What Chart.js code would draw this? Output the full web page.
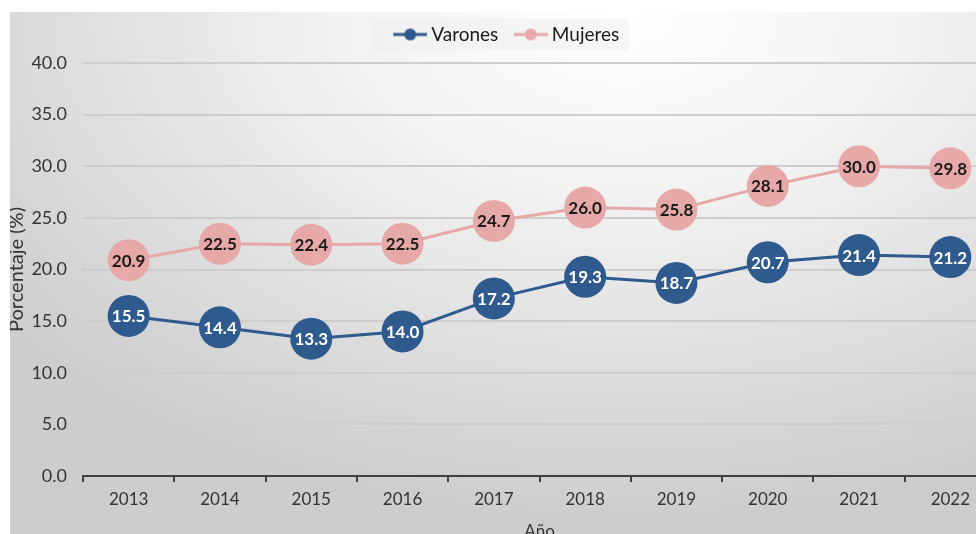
<!DOCTYPE html>
<html>
<head>
<meta charset="utf-8">
<script src="https://cdn.jsdelivr.net/npm/chart.js@4.4.0/dist/chart.umd.min.js"></script>
<style>
html, body { margin: 0; padding: 0; background: #fff; overflow: hidden; width: 976px; height: 534px; }
#wrap {
    position: absolute; left: 10px; top: 12px; width: 990px; height: 530px;
    background: radial-gradient(ellipse 80% 95% at 62% 0%, #ffffff 0%, #f3f3f3 35%, #dddddd 72%, #cdcdcd 100%);
}
#myChart { display: block; width: 990px; height: 530px; }
</style>
</head>
<body>
<div id="wrap"><canvas id="myChart" width="990" height="530"></canvas></div>
<script>
//Data
var years = ['2013', '2014', '2015', '2016', '2017', '2018', '2019', '2020', '2021', '2022'];
var varones = [15.5, 14.4, 13.3, 14.0, 17.2, 19.3, 18.7, 20.7, 21.4, 21.2];
var mujeres = [20.9, 22.5, 22.4, 22.5, 24.7, 26.0, 25.8, 28.1, 30.0, 29.8];
var yTicks = [0, 5, 10, 15, 20, 25, 30, 35, 40];

var blue = '#2f5a8e';
var pink = '#e6a9a7';
var font = 'Lato, "Open Sans", sans-serif';

// legend marker: short line with a dot, with blank room on the left
function legendMarker(color) {
    var c = document.createElement('canvas');
    c.width = 46; c.height = 14;
    var g = c.getContext('2d');
    g.strokeStyle = color; g.lineWidth = 3;
    g.beginPath(); g.moveTo(12, 7); g.lineTo(46, 7); g.stroke();
    g.fillStyle = color;
    g.beginPath(); g.arc(29, 7, 6, 0, Math.PI * 2); g.fill();
    return c;
}

// light box behind the legend
var legendBox = {
    id: 'legendBox',
    beforeDraw: function (chart) {
        var l = chart.legend;
        if (!l || !l.legendHitBoxes.length) return;
        var first = l.legendHitBoxes[0];
        var cy = first.top + first.height / 2;
        var ctx = chart.ctx;
        ctx.save();
        ctx.fillStyle = 'rgba(238,238,238,0.55)';
        ctx.fillRect(l.left + l.width / 2 - 130, cy - 16, 256, 32);
        ctx.restore();
    }
};

// values written inside the circles
var pointLabels = {
    id: 'pointLabels',
    afterDatasetsDraw: function (chart) {
        var ctx = chart.ctx;
        ctx.save();
        ctx.font = 'bold 17px ' + font;
        ctx.textAlign = 'center';
        ctx.textBaseline = 'middle';
        chart.data.datasets.forEach(function (ds, i) {
            var meta = chart.getDatasetMeta(i);
            ctx.fillStyle = ds.labelColor;
            meta.data.forEach(function (pt, j) {
                ctx.fillText(ds.data[j].toFixed(1), pt.x, pt.y + 1);
            });
        });
        ctx.restore();
    }
};

var ctx = document.getElementById('myChart');
var myChart = new Chart(ctx, {
    type: 'line',
    data: {
        labels: years,
        datasets: [{
            label: 'Varones',
            data: varones,
            borderColor: blue,
            backgroundColor: blue,
            borderWidth: 3,
            pointRadius: 21,
            pointBorderWidth: 0,
            pointStyle: 'circle',
            labelColor: '#ffffff'
        }, {
            label: 'Mujeres',
            data: mujeres,
            borderColor: pink,
            backgroundColor: pink,
            borderWidth: 3,
            pointRadius: 21,
            pointBorderWidth: 0,
            pointStyle: 'circle',
            labelColor: '#1a1a1a'
        }]
    },
    options: {
        responsive: false,
        animation: false,
        layout: { autoPadding: false, padding: { top: 4, right: 4, left: 0, bottom: 0 } },
        plugins: {
            tooltip: { enabled: false },
            legend: {
                position: 'top',
                labels: {
                    usePointStyle: true,
                    pointStyleWidth: 35,
                    color: '#1a1a1a',
                    font: { family: font, size: 19 },
                    padding: 9,
                    generateLabels: function (chart) {
                        return chart.data.datasets.map(function (ds, i) {
                            return {
                                text: ds.label,
                                pointStyle: legendMarker(ds.borderColor),
                                fillStyle: ds.borderColor,
                                strokeStyle: ds.borderColor,
                                lineWidth: 0,
                                fontColor: '#1a1a1a',
                                datasetIndex: i
                            };
                        });
                    }
                }
            }
        },
        scales: {
            x: {
                offset: true,
                afterFit: function (axis) { axis.height = 66; },
                grid: { display: true, drawOnChartArea: false, tickLength: 6, color: '#404040', lineWidth: 2, offset: true },
                border: { display: true, color: '#404040', width: 2 },
                ticks: { color: '#333333', font: { family: font, size: 17 }, padding: 7 },
                title: { display: true, text: 'Año', color: '#333333', font: { family: font, size: 17 }, padding: { top: 0, bottom: 0 } }
            },
            y: {
                min: 0,
                max: 40,
                afterFit: function (axis) { axis.width = 73; },
                afterBuildTicks: function (axis) {
                    axis.ticks = yTicks.map(function (v) { return { value: v }; });
                },
                grid: { color: '#cdcdcd', lineWidth: 2, drawTicks: false },
                border: { display: false },
                ticks: {
                    color: '#333333',
                    font: { family: font, size: 18 },
                    padding: 16,
                    callback: function (v) { return Number(v).toFixed(1); }
                },
                title: { display: true, text: 'Porcentaje (%)', color: '#333333', font: { family: font, size: 20 }, padding: { top: -5, bottom: 0 } }
            }
        }
    },
    plugins: [legendBox, pointLabels]
});

// leave some room between the legend and the plot
var legendFit = myChart.legend.fit;
myChart.legend.fit = function () {
    legendFit.call(this);
    this.height += 9;
};
myChart.update();
</script>
</body>
</html>
